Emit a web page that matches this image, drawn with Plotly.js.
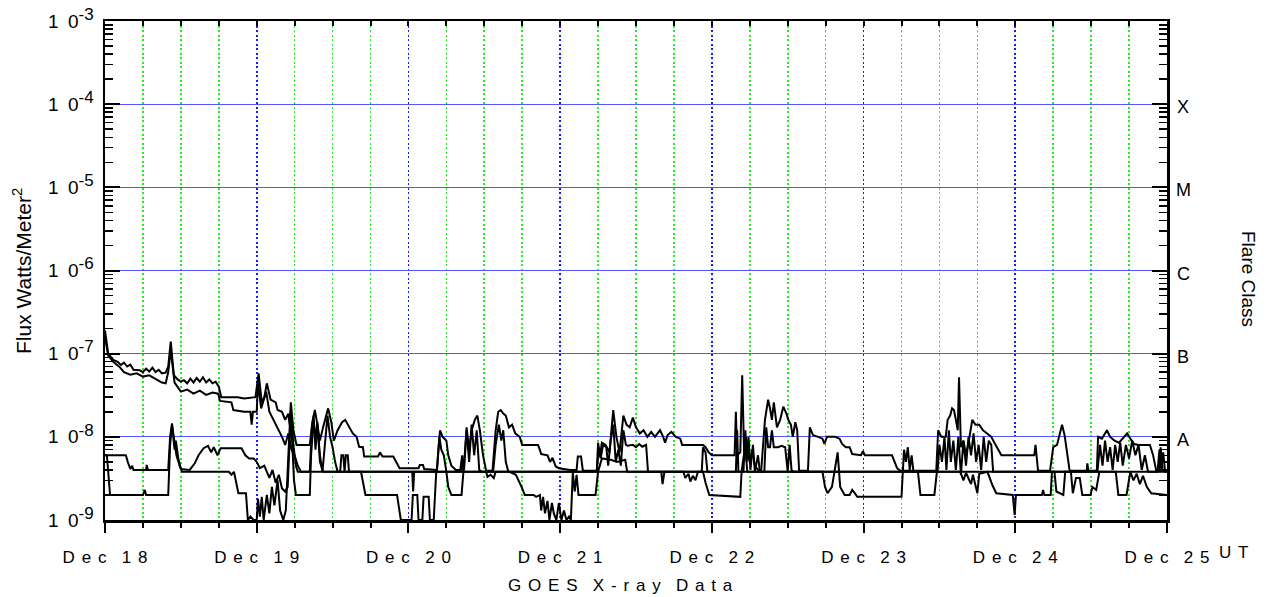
<!DOCTYPE html>
<html>
<head>
<meta charset="utf-8">
<script src="https://cdn.plot.ly/plotly-3.0.1.min.js"></script>
<style>html,body{margin:0;padding:0;background:#fff;}#chart{width:1270px;height:597px;}</style>
</head>
<body>
<div id="chart"></div>
<script>
// ---- data: [hours since Dec 18 00:00 UT, flux W/m^2] ----
const seriesA = [[0,1.9e-7],[0.5,1.0e-7],[1.3,8.4e-8],[2.0,8.0e-8],[2.5,7.3e-8],[3.0,7.8e-8],[3.5,7.0e-8],[4.0,7.4e-8],[4.5,6.4e-8],[5.5,6.3e-8],[6.0,6.0e-8],[6.5,6.6e-8],[7.0,6.1e-8],[7.5,6.8e-8],[8.0,6.0e-8],[8.5,6.4e-8],[9.0,5.8e-8],[9.6,5.9e-8],[10.0,7.0e-8],[10.4,1.4e-7],[10.9,5.5e-8],[11.5,4.9e-8],[12.0,4.6e-8],[12.5,4.8e-8],[13.0,4.4e-8],[13.5,5.0e-8],[14.0,4.5e-8],[14.5,5.1e-8],[15.0,4.6e-8],[15.5,5.2e-8],[16.0,4.5e-8],[16.5,4.9e-8],[17.0,4.4e-8],[17.5,4.6e-8],[18.0,4.0e-8],[18.4,3.0e-8],[21.0,3.0e-8],[22.0,2.9e-8],[23.8,3.0e-8],[24.3,5.8e-8],[24.8,2.6e-8],[25.2,3.0e-8],[25.6,4.4e-8],[26.2,2.8e-8],[27.0,2.6e-8],[27.3,2.1e-8],[28.0,2.0e-8],[28.5,1.6e-8],[29.0,1.9e-8],[29.2,1.4e-8],[29.4,2.6e-8],[29.8,1.2e-8],[30.3,8.0e-9],[32.4,8.0e-9],[32.8,1.5e-8],[33.2,2.1e-8],[33.6,1.4e-8],[34.0,9.0e-9],[34.5,1.3e-8],[35.3,2.2e-8],[35.8,1.5e-8],[36.2,9.0e-9],[36.8,1.2e-8],[37.5,1.5e-8],[38.0,1.6e-8],[38.6,1.3e-8],[39.2,1.1e-8],[39.8,1.0e-8],[40.2,7.6e-9],[40.8,7.5e-9],[41.0,5.8e-9],[43.2,5.8e-9],[43.5,6.5e-9],[43.9,5.8e-9],[45.6,5.8e-9],[46.6,4.2e-9],[49.6,4.2e-9],[49.8,4.6e-9],[50.3,4.6e-9],[50.5,4.1e-9],[52.5,4.0e-9],[52.8,8.0e-9],[53.0,1.2e-8],[53.4,1.0e-8],[54.0,9.0e-9],[54.3,6.0e-9],[54.8,4.5e-9],[55.5,4.0e-9],[56.2,4.0e-9],[56.5,6.0e-9],[56.8,4.0e-9],[57.2,1.3e-8],[57.6,7.0e-9],[58.0,1.2e-8],[58.5,1.6e-8],[58.9,1.8e-8],[59.3,1.2e-8],[59.8,6.0e-9],[60.3,3.9e-9],[61.3,3.9e-9],[61.8,1.2e-8],[62.2,2.0e-8],[62.6,2.1e-8],[63.0,1.9e-8],[63.4,1.8e-8],[63.9,1.3e-8],[64.4,1.4e-8],[64.9,1.1e-8],[65.6,1.0e-8],[66.0,8.0e-9],[68.5,8.0e-9],[68.7,7.3e-9],[69.0,6.2e-9],[70.0,6.0e-9],[70.4,5.0e-9],[70.8,5.6e-9],[71.3,4.4e-9],[71.8,4.2e-9],[73.6,4.0e-9],[74.6,4.0e-9],[74.8,5.8e-9],[75.3,5.8e-9],[75.6,3.9e-9],[77.8,3.9e-9],[78.0,8.5e-9],[78.3,5.8e-9],[78.6,8.5e-9],[79.2,8.0e-9],[79.8,6.5e-9],[80.4,2.1e-8],[80.9,1.0e-8],[81.4,6.5e-9],[82.0,1.8e-8],[82.5,1.4e-8],[83.0,1.3e-8],[83.5,1.7e-8],[84.0,1.3e-8],[84.6,1.1e-8],[85.2,1.2e-8],[85.8,1.0e-8],[86.4,1.15e-8],[87.0,1.0e-8],[87.8,1.2e-8],[88.3,1.0e-8],[88.6,8.5e-9],[89.0,1.05e-8],[89.6,1.15e-8],[90.3,1.0e-8],[91.0,9.5e-9],[91.3,8.0e-9],[94.6,8.0e-9],[95.0,7.5e-9],[95.5,6.5e-9],[96.0,6.0e-9],[99.6,6.0e-9],[99.8,2.0e-8],[100.0,6.0e-9],[100.5,6.5e-9],[100.8,5.5e-8],[101.1,6.5e-9],[101.4,1.0e-8],[101.7,6.0e-9],[102.0,5.0e-9],[102.4,7.0e-9],[102.8,4.5e-9],[103.3,4.0e-9],[103.8,3.9e-9],[104.4,1.6e-8],[104.9,2.8e-8],[105.2,2.2e-8],[105.5,1.6e-8],[105.8,2.6e-8],[106.3,1.3e-8],[106.8,1.6e-8],[107.3,2.3e-8],[107.8,1.9e-8],[108.1,1.6e-8],[108.5,1.4e-8],[108.8,1.0e-8],[109.2,1.5e-8],[109.5,1.2e-8],[109.8,3.9e-9],[111.2,3.9e-9],[111.5,1.3e-8],[112.0,1.05e-8],[112.8,1.0e-8],[113.5,9.5e-9],[113.8,8.2e-9],[114.2,1.0e-8],[115.5,1.0e-8],[116.2,9.5e-9],[116.6,8.2e-9],[117.2,7.5e-9],[117.8,7.5e-9],[118.2,6.2e-9],[119.6,6.0e-9],[119.9,6.7e-9],[120.2,6.0e-9],[124.5,6.0e-9],[125.3,4.2e-9],[125.8,3.9e-9],[131.5,3.9e-9],[131.8,1.2e-8],[132.3,1.0e-8],[133.0,1.0e-8],[133.3,1.6e-8],[133.7,1.8e-8],[134.0,2.2e-8],[134.3,2.1e-8],[134.6,1.6e-8],[134.9,1.2e-8],[135.1,5.2e-8],[135.4,7.5e-9],[135.8,9.0e-9],[136.2,6.0e-9],[136.6,8.5e-9],[137.2,1.6e-8],[137.7,1.4e-8],[138.3,1.4e-8],[138.9,1.2e-8],[139.5,1.1e-8],[140.2,1.0e-8],[140.7,8.5e-9],[141.3,7.0e-9],[141.8,6.0e-9],[147.0,6.0e-9],[147.2,8.0e-9],[147.4,5.6e-9],[147.6,3.9e-9],[149.5,3.9e-9],[150.0,7.5e-9],[150.6,8.0e-9],[151.0,1.05e-8],[151.4,1.4e-8],[151.8,1.05e-8],[152.1,7.5e-9],[152.6,3.9e-9],[156.9,3.9e-9],[157.1,1.0e-8],[157.7,9.5e-9],[158.5,1.2e-8],[159.0,1.0e-8],[159.7,9.0e-9],[160.4,8.5e-9],[161.0,9.5e-9],[161.7,1.1e-8],[162.2,9.5e-9],[162.8,8.2e-9],[163.5,8.0e-9],[165.3,8.0e-9],[165.8,6.0e-9],[166.3,3.9e-9],[166.8,3.9e-9],[167.0,7.5e-9],[167.3,3.9e-9],[168,3.9e-9]];

const seriesB = [[0,1.6e-7],[0.5,9.5e-8],[1.3,8.0e-8],[2.4,6.8e-8],[3.0,6.0e-8],[4.0,5.6e-8],[5.0,5.8e-8],[6.0,5.3e-8],[7.0,5.5e-8],[8.0,5.0e-8],[9.0,4.5e-8],[9.6,4.4e-8],[10.0,6.0e-8],[10.4,1.1e-7],[11.0,4.5e-8],[12.0,3.5e-8],[13.0,3.7e-8],[14.0,3.3e-8],[15.0,3.6e-8],[16.0,3.2e-8],[17.0,3.4e-8],[17.9,3.3e-8],[18.2,2.7e-8],[20.0,2.6e-8],[20.3,2.1e-8],[22.0,2.0e-8],[23.0,2.0e-8],[23.2,1.4e-8],[23.4,2.0e-8],[24.0,2.0e-8],[24.2,4.5e-8],[24.7,2.2e-8],[25.5,3.5e-8],[26.0,2.0e-8],[27.0,1.4e-8],[27.5,1.2e-8],[28.0,1.0e-8],[28.5,8.0e-9],[29.0,1.1e-8],[29.5,7.0e-9],[30.0,6.0e-9],[30.5,4.5e-9],[31.0,3.8e-9],[32.4,3.8e-9],[32.7,1.2e-8],[33.0,1.8e-8],[33.3,7.0e-9],[33.6,1.4e-8],[34.0,6.0e-9],[34.4,3.8e-9],[34.8,9.0e-9],[35.2,1.8e-8],[35.6,1.0e-8],[36.0,7.5e-9],[36.4,5.0e-9],[36.8,3.8e-9],[37.2,3.8e-9],[37.4,6.0e-9],[37.7,6.0e-9],[37.9,3.8e-9],[38.1,6.0e-9],[38.4,6.0e-9],[38.6,3.8e-9],[52.5,3.8e-9],[52.9,1.0e-8],[53.2,7.0e-9],[53.6,6.0e-9],[54.0,3.8e-9],[56.3,3.8e-9],[56.5,5.5e-9],[56.7,3.8e-9],[57.2,1.2e-8],[57.6,5.0e-9],[58.0,1.4e-8],[58.4,6.0e-9],[58.8,1.2e-8],[59.2,4.0e-9],[59.6,3.8e-9],[61.4,3.8e-9],[61.8,8.0e-9],[62.3,1.4e-8],[62.7,9.0e-9],[63.0,1.2e-8],[63.4,5.0e-9],[63.8,3.8e-9],[77.8,3.8e-9],[78.1,7.5e-9],[78.4,5.5e-9],[78.8,8.0e-9],[79.3,7.5e-9],[79.6,4.5e-9],[80.0,9.0e-9],[80.4,1.4e-8],[80.8,5.0e-9],[81.2,7.0e-9],[81.6,4.5e-9],[82.0,1.2e-8],[82.4,8.0e-9],[82.7,7.8e-9],[83.5,8.0e-9],[84.0,7.5e-9],[84.5,8.2e-9],[85.0,7.6e-9],[85.6,8.0e-9],[85.9,3.8e-9],[94.4,3.8e-9],[94.6,7.5e-9],[95.0,6.5e-9],[95.3,3.8e-9],[99.8,3.8e-9],[100.0,1.2e-8],[100.2,3.8e-9],[101.0,3.8e-9],[101.3,1.2e-8],[101.5,5.0e-9],[101.8,1.0e-8],[102.1,4.0e-9],[102.5,8.0e-9],[102.8,3.8e-9],[103.3,6.0e-9],[103.6,3.8e-9],[104.3,3.8e-9],[104.6,1.3e-8],[104.9,7.5e-9],[105.2,7.5e-9],[105.5,1.2e-8],[105.8,7.5e-9],[106.5,7.5e-9],[107.0,7.8e-9],[107.6,7.5e-9],[108.0,3.8e-9],[108.3,8.0e-9],[108.6,4.0e-9],[108.9,3.8e-9],[131.7,3.8e-9],[132.0,8.0e-9],[132.4,5.0e-9],[132.8,1.0e-8],[133.1,4.0e-9],[133.5,1.2e-8],[133.8,5.0e-9],[134.2,9.0e-9],[134.6,4.0e-9],[135.0,1.0e-8],[135.4,3.5e-9],[135.8,9.0e-9],[136.2,4.5e-9],[136.6,1.0e-8],[137.0,6.0e-9],[137.4,1.1e-8],[137.8,5.0e-9],[138.2,8.0e-9],[138.6,4.0e-9],[139.0,1.0e-8],[139.4,5.0e-9],[139.8,9.0e-9],[140.2,8.0e-9],[140.5,3.8e-9],[157.0,3.8e-9],[157.4,8.0e-9],[157.8,4.5e-9],[158.2,9.0e-9],[158.6,5.0e-9],[159.0,7.5e-9],[159.4,4.0e-9],[159.8,8.0e-9],[160.2,5.0e-9],[160.6,8.5e-9],[161.0,4.5e-9],[161.5,8.0e-9],[162.0,5.5e-9],[162.5,9.0e-9],[163.0,6.0e-9],[163.5,8.0e-9],[164.0,4.0e-9],[164.5,6.0e-9],[165.0,3.8e-9],[166.5,3.8e-9],[166.8,7.0e-9],[167.1,4.0e-9],[167.4,6.5e-9],[167.7,3.8e-9],[168,3.8e-9]];

const seriesC = [[0,6.0e-9],[3.3,6.0e-9],[3.6,5.0e-9],[4.0,4.1e-9],[4.3,4.5e-9],[4.5,4.0e-9],[6.5,4.0e-9],[6.6,4.6e-9],[6.8,4.0e-9],[10.0,4.0e-9],[10.3,1.0e-8],[10.6,1.45e-8],[11.0,7.0e-9],[11.2,9.0e-9],[11.6,5.5e-9],[12.0,4.1e-9],[13.4,4.0e-9],[14.2,4.8e-9],[14.8,6.0e-9],[15.6,7.3e-9],[16.3,7.8e-9],[16.8,6.5e-9],[17.2,7.5e-9],[17.8,6.0e-9],[18.3,7.3e-9],[21.6,7.3e-9],[22.2,6.0e-9],[22.8,5.5e-9],[23.5,5.5e-9],[24.0,5.0e-9],[24.5,4.2e-9],[25.2,4.5e-9],[26.0,3.2e-9],[26.5,4.0e-9],[27.0,2.8e-9],[27.5,3.5e-9],[28.0,2.4e-9],[28.5,2.2e-9],[28.9,2.5e-9],[29.4,2.0e-8],[29.8,8.0e-9],[30.2,4.5e-9],[30.5,3.8e-9],[48.6,3.8e-9],[48.75,2.2e-9],[48.9,3.8e-9],[155.3,3.8e-9],[155.4,4.8e-9],[155.6,3.8e-9],[168,3.8e-9]];

const seriesD = [[0,6.0e-9],[0.3,6.0e-9],[0.8,2.0e-9],[6.0,2.0e-9],[6.3,2.3e-9],[6.5,2.0e-9],[10.0,2.0e-9],[10.3,8.0e-9],[10.6,1.4e-8],[11.0,8.0e-9],[11.3,6.0e-9],[11.8,4.5e-9],[12.2,3.8e-9],[19.6,3.8e-9],[20.0,3.5e-9],[20.4,3.8e-9],[20.8,2.6e-9],[21.1,2.1e-9],[22.3,2.1e-9],[22.6,1.0e-9],[23.0,1.1e-9],[23.5,1.0e-9],[24.0,1.0e-9],[24.2,1.8e-9],[24.5,1.1e-9],[24.8,1.9e-9],[25.1,1.0e-9],[25.6,2.0e-9],[26.0,1.2e-9],[26.4,2.5e-9],[26.8,1.5e-9],[27.3,3.0e-9],[27.7,1.3e-9],[28.2,1.0e-9],[28.6,1.3e-9],[28.9,5.0e-9],[29.3,1.8e-8],[29.6,9.0e-9],[29.9,3.0e-9],[30.2,2.0e-9],[32.4,2.0e-9],[32.6,6.0e-9],[33.0,1.6e-8],[33.3,9.0e-9],[33.6,1.5e-8],[34.0,5.0e-9],[34.5,3.8e-9],[40.5,3.8e-9],[41.2,2.0e-9],[46.2,2.0e-9],[46.8,1.0e-9],[48.5,1.0e-9],[48.7,2.0e-9],[49.4,2.0e-9],[49.6,1.0e-9],[50.2,1.0e-9],[50.4,1.9e-9],[51.2,1.9e-9],[51.4,1.0e-9],[52.0,1.0e-9],[52.4,3.8e-9],[54.0,3.8e-9],[54.3,2.5e-9],[54.8,2.0e-9],[56.4,2.0e-9],[56.7,3.8e-9],[60.3,3.8e-9],[60.5,3.3e-9],[61.0,3.5e-9],[61.5,3.2e-9],[61.8,3.8e-9],[64.0,3.8e-9],[65.0,3.5e-9],[66.0,2.4e-9],[66.4,2.0e-9],[67.8,2.0e-9],[68.2,1.9e-9],[68.8,2.0e-9],[69.0,1.3e-9],[69.3,1.9e-9],[69.6,1.2e-9],[70.0,1.7e-9],[70.3,1.0e-9],[70.7,1.6e-9],[71.0,1.2e-9],[71.4,1.0e-9],[71.8,1.6e-9],[72.2,1.0e-9],[72.6,1.3e-9],[73.0,1.0e-9],[73.4,1.1e-9],[73.7,1.0e-9],[74.0,3.8e-9],[74.3,2.2e-9],[74.6,3.5e-9],[74.9,2.0e-9],[77.6,2.0e-9],[78.0,3.8e-9],[78.6,5.5e-9],[80.0,5.3e-9],[81.0,5.0e-9],[82.3,5.3e-9],[82.6,3.8e-9],[88.0,3.8e-9],[88.2,2.7e-9],[88.5,3.8e-9],[91.5,3.8e-9],[91.8,3.2e-9],[92.3,3.6e-9],[92.6,2.9e-9],[93.0,3.4e-9],[93.4,3.0e-9],[93.8,3.8e-9],[94.6,3.8e-9],[95.0,2.8e-9],[95.6,2.0e-9],[100.5,1.9e-9],[100.7,3.8e-9],[101.3,8.0e-9],[101.6,3.8e-9],[113.5,3.8e-9],[113.9,2.5e-9],[114.3,2.1e-9],[115.0,2.5e-9],[115.4,3.8e-9],[115.9,6.5e-9],[116.3,2.5e-9],[116.8,2.1e-9],[117.0,2.0e-9],[117.8,2.0e-9],[118.2,2.3e-9],[118.6,2.1e-9],[119.0,1.9e-9],[126.0,1.9e-9],[126.2,3.8e-9],[126.4,7.0e-9],[126.7,5.0e-9],[127.0,7.5e-9],[127.3,4.0e-9],[127.6,6.0e-9],[127.9,3.8e-9],[128.6,3.8e-9],[129.0,2.0e-9],[131.2,2.0e-9],[131.6,3.8e-9],[135.3,3.8e-9],[135.8,3.0e-9],[136.2,3.7e-9],[137.0,2.7e-9],[137.3,3.5e-9],[137.6,2.8e-9],[138.0,2.1e-9],[138.3,3.6e-9],[139.6,3.8e-9],[140.4,2.6e-9],[141.0,2.1e-9],[143.6,2.0e-9],[143.9,1.15e-9],[144.1,2.0e-9],[148.2,2.0e-9],[148.4,2.3e-9],[148.6,2.0e-9],[149.6,2.0e-9],[149.8,3.8e-9],[150.2,3.8e-9],[150.5,2.2e-9],[151.6,2.0e-9],[151.9,3.8e-9],[152.8,3.8e-9],[153.1,2.1e-9],[153.6,3.2e-9],[154.2,3.2e-9],[154.6,2.0e-9],[155.9,2.0e-9],[156.2,2.5e-9],[156.8,2.3e-9],[157.3,3.8e-9],[159.9,3.8e-9],[160.3,2.0e-9],[161.6,2.0e-9],[162.2,3.8e-9],[162.7,3.0e-9],[163.2,3.6e-9],[163.7,2.7e-9],[164.2,3.4e-9],[164.8,2.5e-9],[165.5,2.1e-9],[168,2.0e-9]];

// ---- tick labels ----
const TS = '\u2009\u2009';          // letter gap
const WS = '\u2002\u2009\u2009';    // word gap
const spaced = s => s.split(' ').map(w => w.split('').join(TS)).join(WS);
const dayHours = [0, 24, 48, 72, 96, 120, 144, 168];
const dayLabels = ['Dec 18','Dec 19','Dec 20','Dec 21','Dec 22','Dec 23','Dec 24','Dec 25'].map(spaced);
const decades = [1e-9, 1e-8, 1e-7, 1e-6, 1e-5, 1e-4, 1e-3];
const decadeLabels = ['-9','-8','-7','-6','-5','-4','-3'].map(e => '1\u20020<sup><span style="font-size:17px">' + e + '</span></sup>');
const flareClasses = ['A', 'B', 'C', 'M', 'X'];
const flareLevels = [-8, -7, -6, -5, -4];

const minorVals = [];
decades.slice(0, -1).forEach(d => { for (let m = 2; m <= 9; m++) minorVals.push(d * m); });

const FONT = 'Liberation Sans, Arial, Helvetica, sans-serif';
const NOGRID = 'rgba(0,0,0,0)';
function mk(series, xa, ya) {
  return {
    x: series.map(p => p[0]), y: series.map(p => p[1]),
    xaxis: xa, yaxis: ya, type: 'scatter', mode: 'lines',
    line: {color: '#000', width: 2}, hoverinfo: 'skip', showlegend: false
  };
}
const traces = [mk(seriesA, 'x', 'y'), mk(seriesB, 'x', 'y'), mk(seriesC, 'x', 'y'), mk(seriesD, 'x2', 'y2')];

function yMinor() {
  return {tickmode: 'array', tickvals: minorVals, ticks: 'inside', ticklen: 8, tickwidth: 1.5, tickcolor: '#000',
          showgrid: false, gridcolor: NOGRID};
}

const layout = {
  width: 1270, height: 597,
  margin: {l: 105, r: 103, t: 21, b: 77, pad: 0},
  paper_bgcolor: '#fff', plot_bgcolor: '#fff',
  font: {family: FONT, color: '#000', size: 16},
  showlegend: false,
  xaxis: {
    range: [0, 168], tickmode: 'array', tickvals: dayHours, ticktext: dayLabels,
    ticks: 'outside', ticklen: 10, tickwidth: 2, tickcolor: '#000',
    tickfont: {family: FONT, size: 17, color: '#000'}, ticklabelstandoff: 10,
    showline: true, linewidth: 2.5, linecolor: '#000', zeroline: false,
    showgrid: true, gridcolor: '#1a1aff', gridwidth: 1.6, griddash: '2px,2.5px',
    minor: {tickmode: 'linear', tick0: 0, dtick: 6, ticks: 'outside', ticklen: 5, tickwidth: 2, tickcolor: '#000',
            showgrid: true, gridcolor: '#22ee22', gridwidth: 1.6, griddash: '2px,2.5px'},
    fixedrange: true
  },
  xaxis2: {
    overlaying: 'x', side: 'top', anchor: 'y2', range: [0, 168],
    tickmode: 'linear', tick0: 0, dtick: 6, ticks: 'inside', ticklen: 5, tickwidth: 2, tickcolor: '#000',
    showticklabels: false, showgrid: false, gridcolor: NOGRID, zeroline: false,
    showline: true, linewidth: 2.5, linecolor: '#000', fixedrange: true
  },
  yaxis: {
    type: 'log', range: [-9, -3], tickmode: 'array', tickvals: decades, ticktext: decadeLabels,
    ticks: 'inside', ticklen: 15, tickwidth: 2, tickcolor: '#000',
    tickfont: {family: FONT, size: 19, color: '#000'}, ticklabelstandoff: 5,
    showline: true, linewidth: 2.5, linecolor: '#000', zeroline: false,
    showgrid: true, gridcolor: '#5555ff', gridwidth: 1,
    minor: yMinor(), fixedrange: true
  },
  yaxis2: {
    type: 'log', range: [-9, -3], overlaying: 'y', side: 'right', anchor: 'x2',
    tickmode: 'array', tickvals: decades, ticks: 'inside', ticklen: 15, tickwidth: 2, tickcolor: '#000',
    showticklabels: false, showgrid: false, gridcolor: NOGRID, zeroline: false,
    showline: true, linewidth: 2.5, linecolor: '#000',
    minor: yMinor(), fixedrange: true
  },
  annotations: [
    {xref: 'paper', yref: 'paper', x: 0, y: 0.499, xshift: -83, textangle: -90, showarrow: false,
     xanchor: 'center', yanchor: 'middle', text: 'Flux Watts/Meter<sup>2</sup>', font: {family: FONT, size: 21}},
    {xref: 'paper', yref: 'paper', x: 1, y: 0.483, xshift: 81, textangle: 90, showarrow: false,
     xanchor: 'center', yanchor: 'middle', text: 'Flare Class', font: {family: FONT, size: 19}},
    {xref: 'paper', yref: 'paper', x: 0.485, y: 0, yshift: -65, showarrow: false,
     xanchor: 'center', yanchor: 'middle', text: spaced('GOES X-ray Data'), font: {family: FONT, size: 17}},
    {xref: 'paper', yref: 'paper', x: 1, y: 0, xshift: 66, yshift: -32, showarrow: false,
     xanchor: 'center', yanchor: 'middle', text: spaced('UT'), font: {family: FONT, size: 17}}
  ].concat(flareClasses.map((c, i) => ({
    xref: 'paper', yref: 'y', x: 1, y: flareLevels[i], xshift: 16, yshift: -3, showarrow: false,
    xanchor: 'center', yanchor: 'middle', text: c, font: {family: FONT, size: 18}
  })))
};

Plotly.newPlot('chart', traces, layout, {displayModeBar: false, staticPlot: true});
</script>
</body>
</html>
